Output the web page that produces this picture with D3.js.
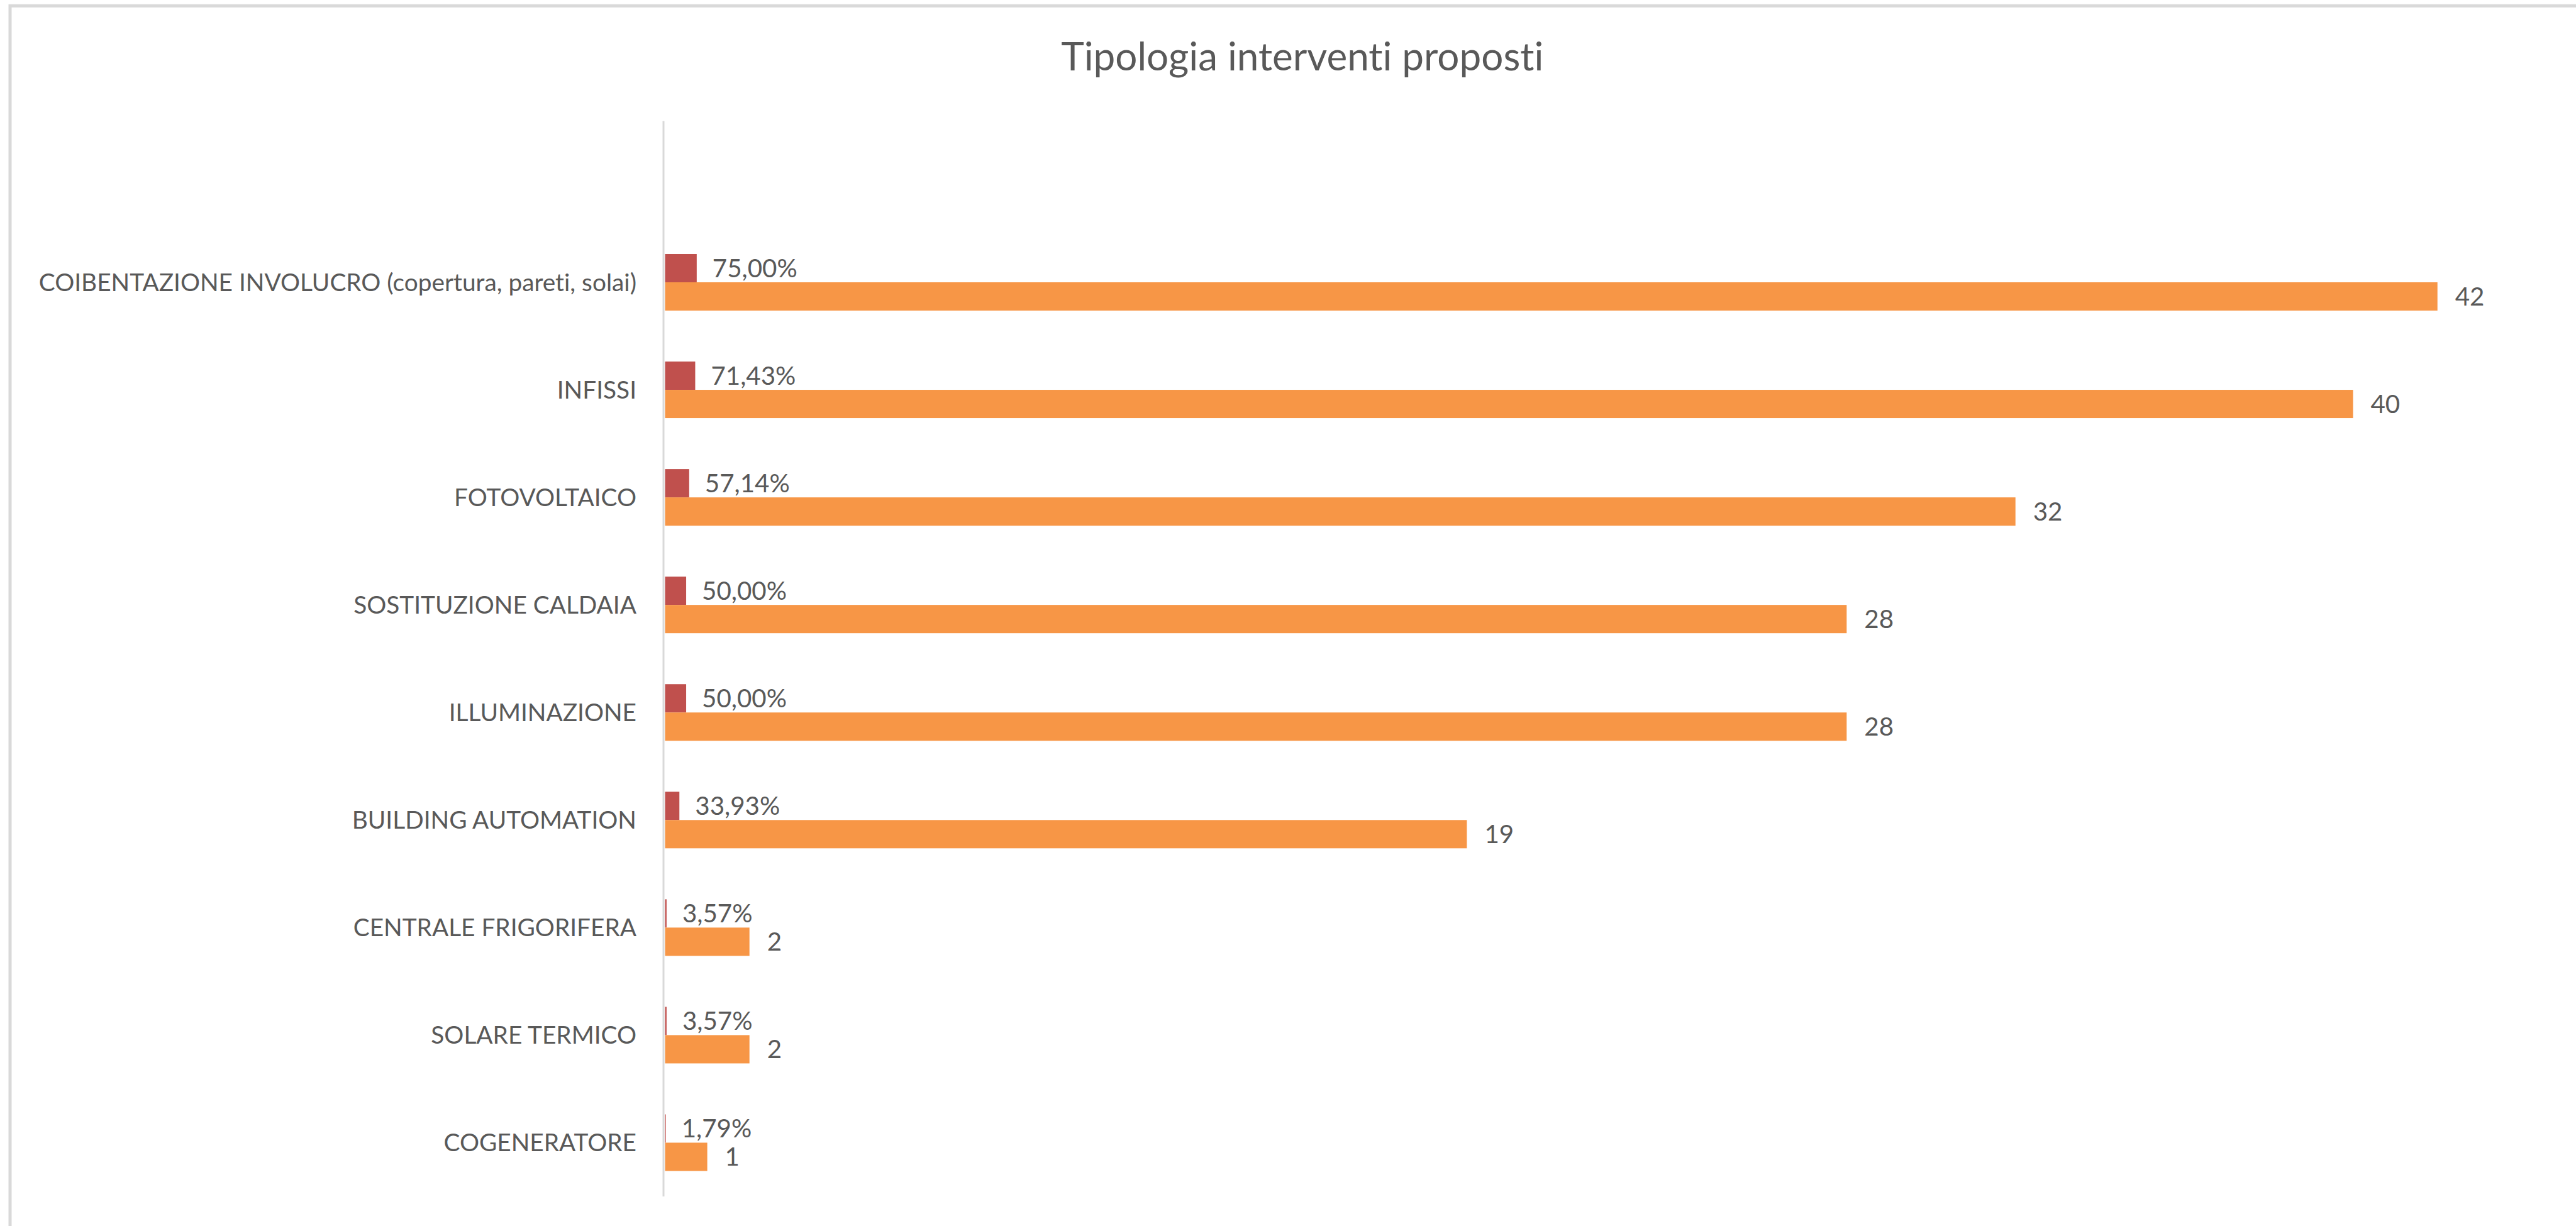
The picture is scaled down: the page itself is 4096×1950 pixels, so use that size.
<!DOCTYPE html>
<html>
<head>
<meta charset="utf-8">
<script src="https://cdn.jsdelivr.net/npm/d3@7"></script>
<style>
  html, body { margin: 0; padding: 0; background: #ffffff; overflow: hidden; }
  svg { display: block; }
  text { font-variant-ligatures: none; font-feature-settings: "liga" 0, "dlig" 0; }
</style>
</head>
<body>
<svg id="chart" width="4096" height="1950"></svg>
<script>
// Proposed intervention types: number of buildings and share of the total
const chartTitle = "Tipologia interventi proposti";
const categories = [
  "COIBENTAZIONE INVOLUCRO (copertura, pareti, solai)",
  "INFISSI",
  "FOTOVOLTAICO",
  "SOSTITUZIONE CALDAIA",
  "ILLUMINAZIONE",
  "BUILDING AUTOMATION",
  "CENTRALE FRIGORIFERA",
  "SOLARE TERMICO",
  "COGENERATORE"
];
const counts = [42, 40, 32, 28, 28, 19, 2, 2, 1];
const shares = [0.75, 0.7143, 0.5714, 0.50, 0.50, 0.3393, 0.0357, 0.0357, 0.0179];
const xMax = 45;

const textColor = "#595959";
const shareColor = "#C0504D";
const countColor = "#F79646";
const fontFamily = "Lato, 'Open Sans', sans-serif";

const svg = d3.select("#chart");

// chart frame (its right and bottom edges fall outside the view)
svg.append("rect")
  .attr("x", 16).attr("y", 9.3)
  .attr("width", 4200).attr("height", 2100)
  .attr("fill", "#ffffff")
  .attr("stroke", "#d9d9d9")
  .attr("stroke-width", 5);

// plot area
const plotLeft = 1057.5, plotRight = 4077;
const plotTop = 192.4, plotBottom = 1903;
const slot = (plotBottom - plotTop) / (categories.length + 1);

const x = d3.scaleLinear().domain([0, xMax]).range([plotLeft, plotRight]);
// the top slot of the plot area stays empty
const y = d3.scaleBand().domain(categories).range([plotTop + slot, plotBottom]);
const sub = d3.scaleBand().domain(["share", "count"]).range([-45, 45]);

const rows = categories.map((c, i) => ({ cat: c, count: counts[i], share: shares[i] }));

// title
svg.append("text")
  .attr("x", 2070.8).attr("y", 112)
  .attr("text-anchor", "middle")
  .attr("font-family", fontFamily)
  .attr("font-size", 62)
  .attr("fill", textColor)
  .text(chartTitle);

// category axis
const axis = svg.append("g")
  .attr("transform", `translate(${plotLeft - 2.5},0)`)
  .call(d3.axisLeft(y).tickSize(0).tickPadding(43));
axis.select(".domain").remove();
axis.selectAll("text")
  .attr("font-family", fontFamily)
  .attr("font-size", 38.8)
  .attr("fill", textColor)
  .attr("dy", "0.36em");

svg.append("line")
  .attr("x1", plotLeft - 2.5).attr("x2", plotLeft - 2.5)
  .attr("y1", plotTop).attr("y2", plotBottom)
  .attr("stroke", "#d9d9d9")
  .attr("stroke-width", 3);

const itFormat = d3.formatLocale({ decimal: ",", thousands: ".", grouping: [3], currency: ["€", ""] });
const pct = itFormat.format(".2%");

const groups = svg.append("g").selectAll("g")
  .data(rows)
  .join("g")
  .attr("transform", d => `translate(0,${y(d.cat) + y.bandwidth() / 2})`);

// share bars
groups.append("rect")
  .attr("x", x(0))
  .attr("y", sub("share"))
  .attr("width", d => x(d.share) - x(0))
  .attr("height", sub.bandwidth())
  .attr("fill", shareColor);

// count bars
groups.append("rect")
  .attr("x", x(0))
  .attr("y", sub("count"))
  .attr("width", d => x(d.count) - x(0))
  .attr("height", sub.bandwidth())
  .attr("fill", countColor);

// value labels
groups.append("text")
  .attr("x", d => x(d.share) + 25)
  .attr("y", sub("share") + sub.bandwidth() / 2)
  .attr("dy", "0.36em")
  .attr("font-family", fontFamily)
  .attr("font-size", 40.3)
  .attr("fill", textColor)
  .text(d => pct(d.share));

groups.append("text")
  .attr("x", d => x(d.count) + 28)
  .attr("y", sub("count") + sub.bandwidth() / 2)
  .attr("dy", "0.36em")
  .attr("font-family", fontFamily)
  .attr("font-size", 40.3)
  .attr("fill", textColor)
  .text(d => d.count);
</script>
</body>
</html>
